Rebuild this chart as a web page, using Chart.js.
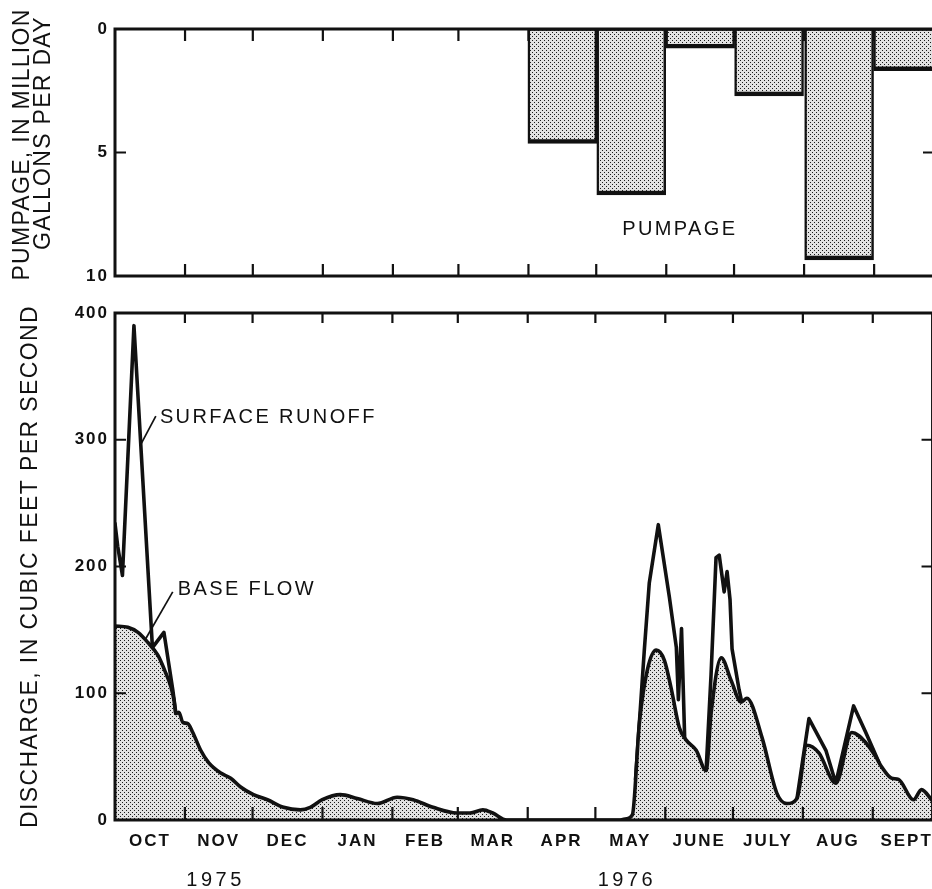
<!DOCTYPE html>
<html>
<head>
<meta charset="utf-8">
<script src="https://cdn.jsdelivr.net/npm/chart.js@4.4.0/dist/chart.umd.min.js"></script>
<style>
    html, body { margin: 0; padding: 0; background: #fff; overflow: hidden; }
    #wrap { position: relative; width: 932px; height: 889px; overflow: hidden; }
    #wrap canvas { position: absolute; left: 0; top: 0; }
</style>
</head>
<body>
<div id="wrap">
    <canvas id="pumpChart" width="940" height="889"></canvas>
    <canvas id="flowChart" width="940" height="889"></canvas>
</div>
<script>
// Days are counted from 1 Oct 1975
var monthLabels = ['OCT', 'NOV', 'DEC', 'JAN', 'FEB', 'MAR', 'APR', 'MAY', 'JUNE', 'JULY', 'AUG', 'SEPT'];
var monthStarts = [0, 31, 61, 92, 123, 152, 183, 213, 244, 274, 305, 336, 366];
var plotEndDay = 362.5;
var yearLabels = ['1975', '1976'];
var yearDays = [44.6, 227];

// Pumpage, million gallons per day (Apr - Sept 1976, mid-month days)
var pumpDays = [198, 228.5, 259, 289.5, 320.5, 351];
var pumpage = [4.63, 6.72, 0.78, 2.71, 9.35, 1.69];
var pumpTicks = [0, 5, 10];

// Base flow, cubic feet per second
var baseDays = [0, 5.7, 10.2, 14.6, 19.0, 22.5, 24.8, 26.1, 27.0, 28.3, 30.1, 32.3, 34.5, 38.0, 41.6, 46.9,
    51.3, 55.7, 61.4, 67.6, 74.7, 82.2, 86.6, 91.9, 99.9, 107.4, 116.3, 125.1, 132.2, 141.0, 151.6,
    157.4, 163.1, 167.5, 173.7, 224, 226.8, 229.4, 232.5, 236.0, 240.0, 243.6, 246.7, 250.2, 253.3,
    257.7, 262.1, 264.3, 268.8, 273.2, 277.6, 280.2, 286.9, 293.5, 297.9, 302.4, 306.8, 312.1, 319.6,
    326.7, 332.9, 337.3, 339.9, 344.3, 347.4, 354.1, 357.6, 362.5];
var baseFlow = [153, 152, 148, 140, 130, 116, 105, 95, 84, 85, 77, 76, 69, 55, 45, 37,
    33, 26, 20, 16, 10, 8, 10, 16, 20, 17, 13, 18, 16, 10, 5.5,
    5.5, 8, 5.5, 0, 0, 1, 4, 76, 118, 134, 126, 103, 73, 63,
    55, 39, 84, 128, 110, 93, 96, 65, 21, 13, 17, 59, 53, 29,
    69, 61, 50, 42, 33, 32, 16, 24, 15];

// Surface runoff (total discharge) where it stands above base flow; null splits storms
var runoffDays = [0, 1.2, 3.3, 8.4, 16.6, 21.7, 25.6, 27.0, 28,
    230.8, 234.7, 236.9, 240.9, 245.8, 248.9, 249.8, 251.2, 252.6, 253,
    262.1, 264.3, 266.5, 267.9, 270.1, 271.4, 272.7, 273.6, 276.7, 277.8, 278,
    302.4, 307.7, 315.2, 319.6, 327.5, 332.9, 338.6];
var runoffFlow = [234, 216, 193, 390, 136, 148, 103, 84, null,
    32, 134, 187, 233, 176, 136, 95, 151, 64, null,
    39, 115, 207, 209, 180, 196, 174, 135, 103, 94, null,
    17, 80, 55, 29, 90, 69, 46];
var flowTicks = [0, 100, 200, 300, 400];

var monthMids = [];
for (var i = 0; i < monthLabels.length; i++) {
    monthMids.push((monthStarts[i] + monthStarts[i + 1]) / 2);
}

function points(xs, ys) {
    return xs.map(function (x, i) { return { x: x, y: ys[i] }; });
}

// grey stipple fill
function stipple(ctx) {
    var c = document.createElement('canvas');
    c.width = 4; c.height = 4;
    var g = c.getContext('2d');
    g.fillStyle = '#e2e2e2';
    g.fillRect(0, 0, 4, 4);
    g.fillStyle = '#1a1a1a';
    g.fillRect(0, 0, 1, 1);
    g.fillRect(2, 2, 1, 1);
    return ctx.createPattern(c, 'repeat');
}

var ink = '#111111';
var family = '"Liberation Sans", Arial, Helvetica, sans-serif';
Chart.defaults.font.family = family;
Chart.defaults.color = ink;

// frame and inward tick marks
function framePlugin(topTick, bottomTick) {
    return {
        id: 'frame',
        beforeDraw: function (chart) {
            chart.ctx.letterSpacing = '2px';
        },
        afterDatasetsDraw: function (chart) {
            var ctx = chart.ctx, a = chart.chartArea;
            var xs = chart.scales.x, ys = chart.scales.y;
            ctx.save();
            ctx.strokeStyle = ink;
            ctx.lineWidth = 2.2;
            ctx.beginPath();
            monthStarts.slice(1, -1).forEach(function (d) {
                var px = xs.getPixelForValue(d);
                ctx.moveTo(px, a.top); ctx.lineTo(px, a.top + topTick);
                ctx.moveTo(px, a.bottom); ctx.lineTo(px, a.bottom - bottomTick);
            });
            ys.ticks.forEach(function (t) {
                var py = ys.getPixelForValue(t.value);
                ctx.moveTo(a.left, py); ctx.lineTo(a.left + 11, py);
                ctx.moveTo(a.right, py); ctx.lineTo(a.right - 11, py);
            });
            ctx.stroke();
            ctx.lineWidth = 3;
            ctx.strokeRect(a.left, a.top, a.right - a.left, a.bottom - a.top);
            ctx.restore();
        }
    };
}

// free text: titles, years, callouts
function notesPlugin(items, leaders) {
    return {
        id: 'notes',
        afterDraw: function (chart) {
            var ctx = chart.ctx, xs = chart.scales.x, ys = chart.scales.y;
            ctx.save();
            ctx.strokeStyle = ink;
            ctx.lineWidth = 1.7;
            leaders.forEach(function (l) {
                ctx.beginPath();
                ctx.moveTo(xs.getPixelForValue(l[0]), ys.getPixelForValue(l[1]));
                ctx.lineTo(xs.getPixelForValue(l[2]), ys.getPixelForValue(l[3]));
                ctx.stroke();
            });
            ctx.restore();
            items.forEach(function (n) {
                var p = n.at(chart);
                ctx.save();
                ctx.font = n.font;
                ctx.letterSpacing = n.spacing + 'px';
                ctx.fillStyle = ink;
                ctx.textAlign = n.align || 'left';
                ctx.textBaseline = n.baseline || 'alphabetic';
                ctx.translate(p[0], p[1]);
                if (n.rotate) ctx.rotate(-Math.PI / 2);
                ctx.fillText(n.text, 0, 0);
                ctx.restore();
            });
        }
    };
}

function atData(d, v) {
    return function (c) { return [c.scales.x.getPixelForValue(d), c.scales.y.getPixelForValue(v)]; };
}

var titleFont = '23px ' + family;
var noteFont = '20px ' + family;
var tickFont = { size: 17, weight: 'bold' };

// ---- top panel: pumpage ----
var pumpCtx = document.getElementById('pumpChart').getContext('2d');
new Chart(pumpCtx, {
    type: 'bar',
    data: {
        datasets: [{
            label: 'Pumpage',
            data: points(pumpDays, pumpage),
            backgroundColor: stipple(pumpCtx),
            borderColor: ink,
            borderWidth: { top: 2, left: 2.5, right: 2.5, bottom: 4.5 },
            borderSkipped: false,
            barPercentage: 1,
            categoryPercentage: 1
        }]
    },
    options: {
        responsive: false,
        animation: false,
        layout: { padding: { left: 0, top: 29, right: 6, bottom: 613 } },
        plugins: { legend: { display: false }, tooltip: { enabled: false } },
        scales: {
            x: {
                type: 'linear',
                display: false,
                min: 0,
                max: plotEndDay,
                offset: false,
                afterBuildTicks: function (scale) {
                    scale.ticks = pumpDays.map(function (d) { return { value: d }; });
                }
            },
            y: {
                type: 'linear',
                reverse: true,
                min: 0,
                max: 10,
                afterBuildTicks: function (scale) {
                    scale.ticks = pumpTicks.map(function (v) { return { value: v }; });
                },
                afterFit: function (scale) { scale.width = 115; },
                grid: { display: false, drawTicks: false },
                border: { display: false },
                ticks: { font: tickFont, padding: 6, color: ink }
            }
        }
    },
    plugins: [
        framePlugin(12, 12),
        notesPlugin([
            { text: 'PUMPAGE', font: noteFont, spacing: 2.4, at: atData(224.5, 8.35) },
            { text: 'PUMPAGE, IN MILLION', font: titleFont, spacing: 1.3, align: 'center', baseline: 'middle', rotate: true,
              at: function (c) { var a = c.chartArea; return [a.left - 92, (a.top + a.bottom) / 2 - 8]; } },
            { text: 'GALLONS PER DAY', font: titleFont, spacing: 1.3, align: 'center', baseline: 'middle', rotate: true,
              at: function (c) { var a = c.chartArea; return [a.left - 71, (a.top + a.bottom) / 2 - 19.5]; } }
        ], [])
    ]
});

// ---- bottom panel: discharge ----
var flowCtx = document.getElementById('flowChart').getContext('2d');
new Chart(flowCtx, {
    type: 'line',
    data: {
        datasets: [{
            label: 'Base flow',
            data: points(baseDays, baseFlow),
            fill: 'origin',
            backgroundColor: stipple(flowCtx),
            borderColor: ink,
            borderWidth: 3.6,
            borderJoinStyle: 'round',
            cubicInterpolationMode: 'monotone',
            pointRadius: 0
        }, {
            label: 'Surface runoff',
            data: points(runoffDays, runoffFlow),
            fill: false,
            borderColor: ink,
            borderWidth: 3.6,
            borderJoinStyle: 'round',
            borderCapStyle: 'round',
            tension: 0,
            spanGaps: false,
            pointRadius: 0
        }]
    },
    options: {
        responsive: false,
        animation: false,
        layout: { padding: { left: 0, top: 313, right: 6, bottom: 29 } },
        plugins: { legend: { display: false }, tooltip: { enabled: false } },
        scales: {
            x: {
                type: 'linear',
                min: 0,
                max: plotEndDay,
                afterBuildTicks: function (scale) {
                    scale.ticks = monthMids.map(function (d) { return { value: d }; });
                },
                afterFit: function (scale) { scale.height = 40; },
                grid: { display: false, drawTicks: false },
                border: { display: false },
                ticks: {
                    autoSkip: false,
                    maxRotation: 0,
                    padding: 11,
                    color: ink,
                    font: tickFont,
                    callback: function (v, i) { return monthLabels[i]; }
                }
            },
            y: {
                type: 'linear',
                min: 0,
                max: 400,
                afterBuildTicks: function (scale) {
                    scale.ticks = flowTicks.map(function (v) { return { value: v }; });
                },
                afterFit: function (scale) { scale.width = 115; },
                grid: { display: false, drawTicks: false },
                border: { display: false },
                ticks: { font: tickFont, padding: 6, color: ink }
            }
        }
    },
    plugins: [
        framePlugin(10, 13),
        notesPlugin([
            { text: 'SURFACE RUNOFF', font: noteFont, spacing: 2.4, at: atData(19.9, 313) },
            { text: 'BASE FLOW', font: noteFont, spacing: 2.4, at: atData(27.8, 177.5) },
            { text: 'DISCHARGE, IN CUBIC FEET PER SECOND', font: titleFont, spacing: 1.4, align: 'center', baseline: 'middle', rotate: true,
              at: function (c) { var a = c.chartArea; return [a.left - 84, (a.top + a.bottom) / 2]; } },
            { text: yearLabels[0], font: '20px ' + family, spacing: 3.5, align: 'center',
              at: function (c) { return [c.scales.x.getPixelForValue(yearDays[0]), c.chartArea.bottom + 66]; } },
            { text: yearLabels[1], font: '20px ' + family, spacing: 3.5, align: 'center',
              at: function (c) { return [c.scales.x.getPixelForValue(yearDays[1]), c.chartArea.bottom + 66]; } }
        ], [
            [18.1, 318.7, 11.5, 296.6],
            [25.6, 180, 13.3, 142]
        ])
    ]
});
</script>
</body>
</html>
